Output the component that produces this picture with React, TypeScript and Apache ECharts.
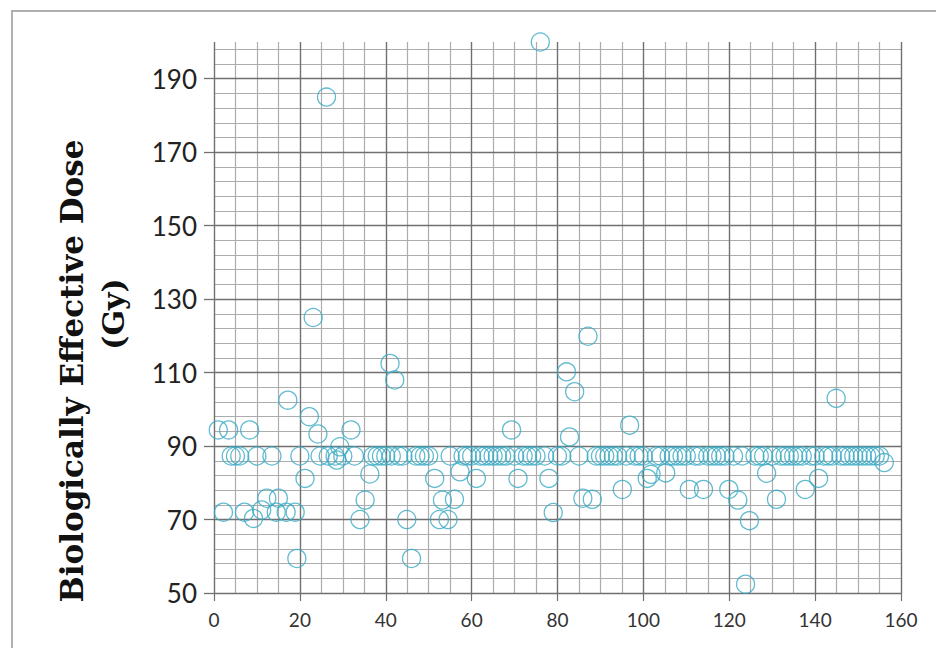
import React, { useEffect, useRef } from "react";
import * as echarts from "echarts";

// Patient index (x) and biologically effective dose in Gy (y)
const bandX = [4, 5, 6, 10, 13.5, 20, 24.7, 26.6, 28.2, 30, 32.7, 37, 38, 39, 40, 41.3, 43, 44, 47, 48, 49, 50, 55, 58, 59, 60, 62, 63, 64, 65, 66, 67, 68, 70, 72, 73, 74, 75, 77, 80, 81, 85, 89, 90, 91, 92, 93, 94, 96, 98, 99, 100, 103, 104, 106, 107, 108, 109, 110, 112, 113, 115, 116, 117, 118, 119, 121, 123, 126, 127, 128, 130, 132, 133, 134, 135, 136, 137, 139, 140, 142, 143, 144, 146, 147, 148, 149, 150, 151, 152, 153, 154, 155];
const bandY = [87.3, 87.3, 87.3, 87.3, 87.3, 87.3, 87.3, 87.3, 87.3, 87.3, 87.3, 87.3, 87.3, 87.3, 87.3, 87.3, 87.3, 87.3, 87.3, 87.3, 87.3, 87.3, 87.3, 87.3, 87.3, 87.3, 87.3, 87.3, 87.3, 87.3, 87.3, 87.3, 87.3, 87.3, 87.3, 87.3, 87.3, 87.3, 87.3, 87.3, 87.3, 87.3, 87.3, 87.3, 87.3, 87.3, 87.3, 87.3, 87.3, 87.3, 87.3, 87.3, 87.3, 87.3, 87.3, 87.3, 87.3, 87.3, 87.3, 87.3, 87.3, 87.3, 87.3, 87.3, 87.3, 87.3, 87.3, 87.3, 87.3, 87.3, 87.3, 87.3, 87.3, 87.3, 87.3, 87.3, 87.3, 87.3, 87.3, 87.3, 87.3, 87.3, 87.3, 87.3, 87.3, 87.3, 87.3, 87.3, 87.3, 87.3, 87.3, 87.3, 87.3];

const otherX = [1, 2.2, 3.4, 7.1, 8.3, 9.2, 11.1, 12.3, 14.5, 15, 16.8, 17.2, 18.9, 19.3, 21.2, 22.2, 23.1, 24.2, 26.2, 28.6, 29.3, 31.9, 34, 35.2, 36.3, 41, 42.1, 44.9, 46, 51.4, 52.5, 53.2, 54.5, 56, 57.3, 61.1, 69.3, 70.8, 76, 78, 79, 82.1, 82.8, 84, 85.9, 87.1, 88.1, 95.1, 96.8, 100.9, 101.8, 105.2, 110.7, 114, 119.9, 122, 123.8, 124.7, 128.7, 131, 137.7, 140.8, 144.9, 156.1];
const otherY = [94.4, 72, 94.4, 72, 94.4, 70.3, 72.6, 75.8, 72, 75.8, 72, 102.5, 72, 59.4, 81.2, 98, 125, 93.3, 185, 86.2, 89.8, 94.4, 70, 75.3, 82.4, 112.5, 108, 70, 59.4, 81.2, 70, 75.3, 70, 75.5, 83, 81.2, 94.4, 81.2, 200, 81.2, 71.9, 110.2, 92.5, 104.8, 75.8, 119.9, 75.5, 78.2, 95.7, 81.2, 82.3, 82.7, 78.2, 78.2, 78.2, 75.3, 52.4, 69.7, 82.6, 75.5, 78.2, 81.2, 103, 85.5];

const xTickLabels = [0, 20, 40, 60, 80, 100, 120, 140, 160];
const yTickLabels = [50, 70, 90, 110, 130, 150, 170, 190];

const MAJOR = "#707070";
const MINOR = "#acacac";
const MARK = "#3aaac4";

export default function App() {
  const ref = useRef<HTMLDivElement>(null);
  useEffect(() => {
    if (!ref.current) return;
    const chart = echarts.init(ref.current, null, { renderer: "svg" });
    const points: number[][] = [];
    otherX.forEach((x, i) => points.push([x, otherY[i]]));
    bandX.forEach((x, i) => points.push([x, bandY[i]]));
    const minorAxisCommon = {
      type: "value",
      axisLine: { show: false },
      axisTick: { show: false },
      axisLabel: { show: false },
    };
    chart.setOption({
      animation: false,
      backgroundColor: "#ffffff",
      grid: {
        left: 214,
        right: 35,
        top: 42,
        bottom: 55,
        containLabel: false,
        outerBoundsMode: "none",
      },
      xAxis: [
        {
          ...minorAxisCommon,
          position: "bottom",
          min: 0,
          max: 160,
          interval: 5,
          splitLine: { show: true, lineStyle: { color: MINOR, width: 1.2 } },
        },
        {
          type: "value",
          position: "bottom",
          offset: 0,
          min: 0,
          max: 160,
          interval: 20,
          z: 1,
          axisLine: { show: false },
          axisTick: {
            show: true,
            customValues: xTickLabels,
            length: 8,
            lineStyle: { color: MAJOR, width: 1.2 },
          },
          axisLabel: {
            customValues: xTickLabels,
            margin: 17,
            fontFamily: "Lato",
            fontSize: 19,
            color: "#333",
          },
          splitLine: { show: true, lineStyle: { color: MAJOR, width: 1.3 } },
        },
      ],
      yAxis: [
        {
          ...minorAxisCommon,
          position: "left",
          min: 50,
          max: 200,
          interval: 4,
          splitLine: {
            show: true,
            showMaxLine: false,
            lineStyle: { color: MINOR, width: 1.2 },
          },
        },
        {
          type: "value",
          position: "left",
          offset: 0,
          min: 50,
          max: 200,
          interval: 20,
          z: 1,
          axisLine: { show: false },
          axisTick: {
            show: true,
            customValues: yTickLabels,
            length: 10,
            lineStyle: { color: MAJOR, width: 1.3 },
          },
          axisLabel: {
            customValues: yTickLabels,
            margin: 17,
            fontFamily: "Lato",
            fontSize: 26,
            color: "#222",
          },
          splitLine: { show: true, lineStyle: { color: MAJOR, width: 1.3 } },
        },
      ],
      graphic: [
        {
          type: "rect",
          shape: { x: 12, y: 11, width: 940, height: 660 },
          style: { fill: "none", stroke: "#b0b0b0", lineWidth: 2 },
          silent: true,
        },
        {
          type: "text",
          x: 72,
          y: 371,
          rotation: Math.PI / 2,
          style: {
            text: "Biologically Effective Dose",
            font: 'bold 31px "DejaVu Serif"',
            fill: "#111",
            align: "center",
            verticalAlign: "middle",
          },
        },
        {
          type: "text",
          x: 113,
          y: 314,
          rotation: Math.PI / 2,
          style: {
            text: "(Gy)",
            font: 'bold 30px "DejaVu Serif"',
            fill: "#111",
            align: "center",
            verticalAlign: "middle",
          },
        },
      ],
      series: [
        {
          type: "scatter",
          xAxisIndex: 1,
          yAxisIndex: 1,
          data: points,
          clip: false,
          symbol: "circle",
          symbolSize: 18,
          z: 3,
          itemStyle: { color: "rgba(0,0,0,0)", borderColor: MARK, borderWidth: 1.3 },
        },
      ],
    });
    return () => chart.dispose();
  }, []);
  return (
    <div
      ref={ref}
      style={{ position: "absolute", left: 0, top: 0, width: 936, height: 648 }}
    />
  );
}
